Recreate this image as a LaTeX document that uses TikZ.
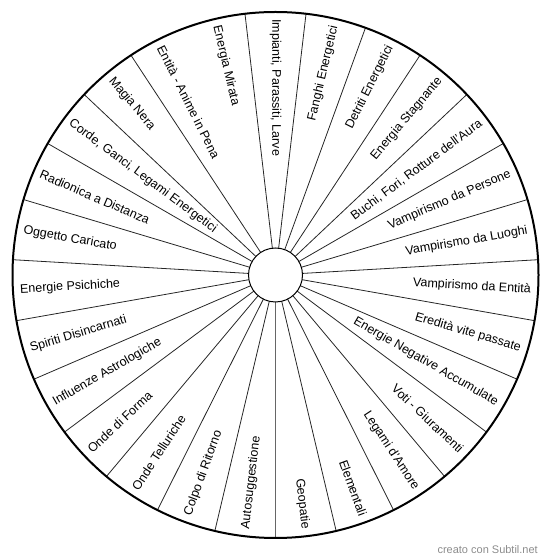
\documentclass[tikz,border=0pt]{standalone}
\usepackage{fontspec}
\setmainfont{Liberation Sans}
\usetikzlibrary{calc}
\tikzset{
  lbl/.style={inner sep=0pt, font=\fontsize{12.5}{14}\selectfont, text=black},
  spoke/.style={line width=0.8pt, draw=black!85},
  rim/.style={line width=2pt, draw=black},
  hub/.style={line width=1pt, draw=black}
}
\begin{document}
\begin{tikzpicture}[x=1pt,y=1pt]
\useasboundingbox (0,0) rectangle (550,560);
\coordinate (c) at (275.5,285);
% spokes
\foreach \i in {0,...,25}{
  \pgfmathsetmacro\a{96.6667-\i*40/3}
  \draw[spoke] ($(c)+(\a:27pt)$) -- ($(c)+(\a:263pt)$);
}
\draw[line width=1.5pt, draw=black!60] ($(c)+(-90:27pt)$) -- ($(c)+(-90:263pt)$);
\draw[rim] (c) circle (263pt);
\draw[hub, fill=white] (c) circle (27pt);
% right-half labels
\foreach \k/\t in {1/{Fanghi Energetici},2/{Detriti Energetici},3/{Energia Stagnante},4/{Buchi, Fori, Rotture dell'Aura},5/{Vampirismo da Persone},6/{Vampirismo da Luoghi},7/{Vampirismo da Entità},8/{Eredità vite passate},9/{Energie Negative Accumulate},10/{Voti - Giuramenti},11/{Legami d'Amore},12/{Elementali},13/{Geopatie}}{
  \pgfmathsetmacro\a{90-\k*40/3}
  \node[lbl, anchor=east, rotate=\a] (l\k) at ($(c)+(\a:256pt)$) {\t};
}
% left-half labels
\foreach \k/\t in {0/{Impianti, Parassiti, Larve},14/{Autosuggestione},15/{Colpo di Ritorno},16/{Onde Telluriche},17/{Onde di Forma},18/{Influenze Astrologiche},19/{Spiriti Disincarnati},20/{Energie Psichiche},21/{Oggetto Caricato},22/{Radionica a Distanza},23/{Corde, Ganci, Legami Energetici},24/{Magia Nera},25/{Entità - Anime in Pena},26/{Energia Mirata}}{
  \pgfmathsetmacro\a{90-\k*40/3}
  \pgfmathsetmacro\r{\a+180}
  \node[lbl, anchor=west, rotate=\r] (l\k) at ($(c)+(\a:256pt)$) {\t};
}
\node[anchor=east, inner sep=0pt, font=\fontsize{11}{13}\selectfont, text=black!45] (wm) at (538,10) {creato con Subtil.net};
\end{tikzpicture}
\end{document}
